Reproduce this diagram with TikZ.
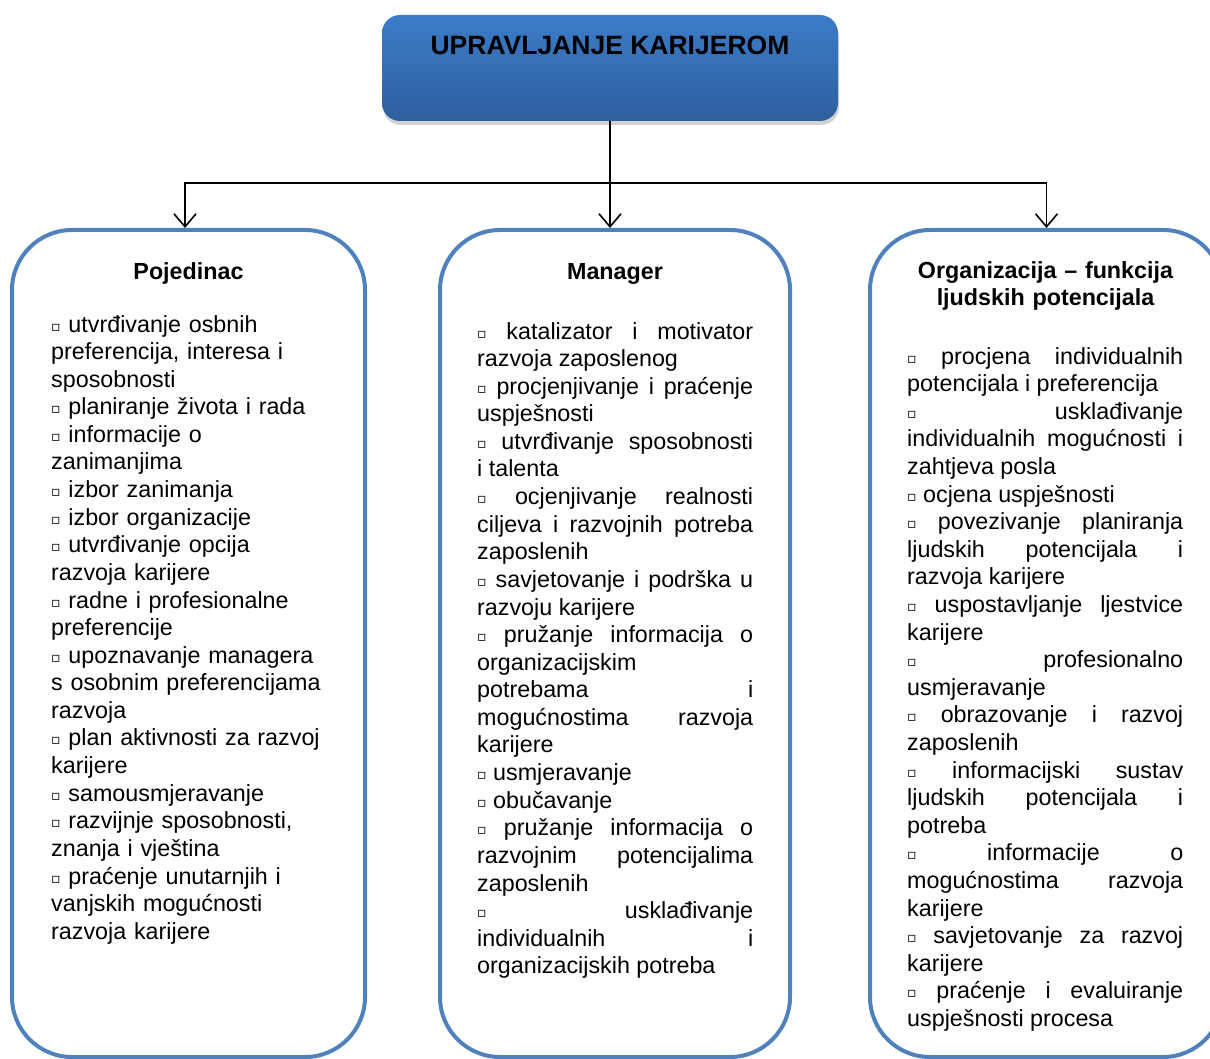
\documentclass[tikz,border=0pt]{standalone}
\usepackage{fontspec}
\setmainfont{Liberation Sans}
\newfontfamily\symfont{DejaVu Sans}
\usetikzlibrary{positioning, arrows.meta, shadows}

\definecolor{panelblue}{HTML}{4F81BD}
\definecolor{titletop}{HTML}{3C7CC9}
\definecolor{titlebottom}{HTML}{2E5F9E}
\newcommand{\sqbul}{\raisebox{1pt}{\symfont\fontsize{14}{14}\selectfont ▫}}
\hyphenpenalty=10000
\tolerance=10000

\begin{document}
\begin{tikzpicture}[
    x=1pt, y=-1pt,
    title/.style={rectangle, rounded corners=18pt, top color=titletop, bottom color=titlebottom, minimum width=456pt, minimum height=106pt, drop shadow={shadow xshift=1pt, shadow yshift=-4pt, fill=black!35}},
    titletext/.style={font=\fontsize{26.5}{30}\selectfont\bfseries, inner sep=0pt, anchor=base},
    panel/.style={rectangle, draw=panelblue, line width=4pt, rounded corners=60pt, minimum width=353pt, minimum height=827pt},
    head/.style={font=\fontsize{23.3}{27}\selectfont\bfseries, text width=340pt, align=center, inner sep=0pt, anchor=base},
    items/.style={font=\fontsize{23.3}{27.6}\selectfont, text width=276pt, align=justify, inner sep=0pt, anchor=base west},
    conn/.style={-{Straight Barb[length=13pt,width=22pt]}, line width=1.6pt}
]
\path[use as bounding box, clip] (0,0) rectangle (1210,1059);

% Title
\node[title] (karijera) at (610,68) {};
\node[titletext] (karijeratxt) at (610,55) {UPRAVLJANJE KARIJEROM};

% Panels
\node[panel] (ind) at (188.5,643.5) {};
\node[panel, minimum width=350pt] (mgr) at (615,643.5) {};
\node[panel] (org) at (1046.5,643.5) {};

% Headings
\node[head] (indhead) at (188.5,280) {Pojedinac};
\node[head] (mgrhead) at (615,280) {Manager};
\node[head] (orghead) at (1045.5,279) {Organizacija – funkcija\\ljudskih potencijala};

% Pojedinac
\node[items, text width=310pt, align=left] (inditems) at (51,332) {%
\sqbul{} utvrđivanje osbnih\\
preferencija, interesa i\\
sposobnosti\\
\sqbul{} planiranje života i rada\\
\sqbul{} informacije o\\
zanimanjima\\
\sqbul{} izbor zanimanja\\
\sqbul{} izbor organizacije\\
\sqbul{} utvrđivanje opcija\\
razvoja karijere\\
\sqbul{} radne i profesionalne\\
preferencije\\
\sqbul{} upoznavanje managera\\
s osobnim preferencijama\\
razvoja\\
\sqbul{} plan aktivnosti za razvoj\\
karijere\\
\sqbul{} samousmjeravanje\\
\sqbul{} razvijnje sposobnosti,\\
znanja i vještina\\
\sqbul{} praćenje unutarnjih i\\
vanjskih mogućnosti\\
razvoja karijere};

% Manager
\node[items] (mgritems) at (477,339) {%
\sqbul{} katalizator i motivator\linebreak razvoja zaposlenog\par
\sqbul{} procjenjivanje i praćenje\linebreak uspješnosti\par
\sqbul{} utvrđivanje sposobnosti\linebreak i talenta\par
\sqbul{} ocjenjivanje realnosti\linebreak ciljeva i razvojnih potreba\linebreak zaposlenih\par
\sqbul{} savjetovanje i podrška u\linebreak razvoju karijere\par
\sqbul{} pružanje informacija o\linebreak organizacijskim\linebreak potrebama i\linebreak mogućnostima razvoja\linebreak karijere\par
\sqbul{} usmjeravanje\par
\sqbul{} obučavanje\par
\sqbul{} pružanje informacija o\linebreak razvojnim potencijalima\linebreak zaposlenih\par
\sqbul{} usklađivanje\linebreak individualnih i\linebreak organizacijskih potreba};

% Organizacija
\node[items] (orgitems) at (907,364) {%
\sqbul{} procjena individualnih\linebreak potencijala i preferencija\par
\sqbul{} usklađivanje\linebreak individualnih mogućnosti i\linebreak zahtjeva posla\par
\sqbul{} ocjena uspješnosti\par
\sqbul{} povezivanje planiranja\linebreak ljudskih potencijala i\linebreak razvoja karijere\par
\sqbul{} uspostavljanje ljestvice\linebreak karijere\par
\sqbul{} profesionalno\linebreak usmjeravanje\par
\sqbul{} obrazovanje i razvoj\linebreak zaposlenih\par
\sqbul{} informacijski sustav\linebreak ljudskih potencijala i\linebreak potreba\par
\sqbul{} informacije o\linebreak mogućnostima razvoja\linebreak karijere\par
\sqbul{} savjetovanje za razvoj\linebreak karijere\par
\sqbul{} praćenje i evaluiranje\linebreak uspješnosti procesa};

% Connections
\coordinate (split) at (610,183);
\draw[conn] (karijera.south) -- (karijera.south |- mgr.north);
\draw[conn] (split) -| ([xshift=-3.5pt]ind.north);
\draw[conn] (split) -| (org.north);

\end{tikzpicture}
\end{document}
